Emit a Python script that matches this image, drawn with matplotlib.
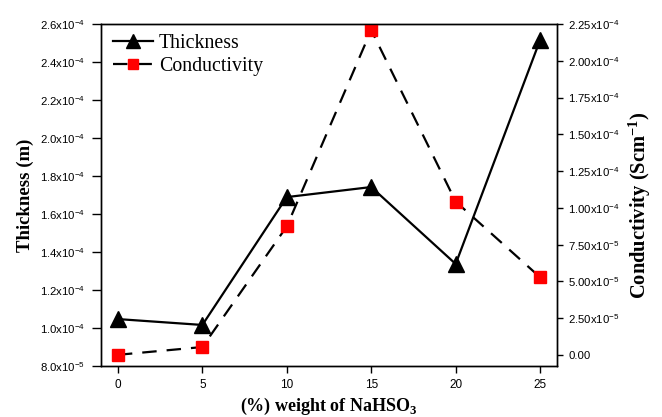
import matplotlib
matplotlib.use("Agg")
import matplotlib.pyplot as plt

plt.rcParams['mathtext.fontset'] = 'custom'
plt.rcParams['mathtext.rm'] = 'Liberation Sans'
plt.rcParams['mathtext.it'] = 'Liberation Sans'
plt.rcParams['mathtext.bf'] = 'Liberation Sans:bold'
plt.rcParams['font.family'] = 'Liberation Sans'

weight = [0, 5, 10, 15, 20, 25]
thickness = [1.047e-4, 1.016e-4, 1.689e-4, 1.742e-4, 1.337e-4, 2.516e-4]
conductivity = [1e-7, 5.4e-6, 8.74e-5, 2.209e-4, 1.043e-4, 5.28e-5]

left_ticks = [8.0e-5, 1.0e-4, 1.2e-4, 1.4e-4, 1.6e-4, 1.8e-4, 2.0e-4, 2.2e-4, 2.4e-4, 2.6e-4]
left_labels = ['8.0x10$^{-5}$', '1.0x10$^{-4}$', '1.2x10$^{-4}$', '1.4x10$^{-4}$', '1.6x10$^{-4}$',
               '1.8x10$^{-4}$', '2.0x10$^{-4}$', '2.2x10$^{-4}$', '2.4x10$^{-4}$', '2.6x10$^{-4}$']
right_ticks = [0.0, 2.5e-5, 5.0e-5, 7.5e-5, 1.0e-4, 1.25e-4, 1.5e-4, 1.75e-4, 2.0e-4, 2.25e-4]
right_labels = ['0.00', '2.50x10$^{-5}$', '5.00x10$^{-5}$', '7.50x10$^{-5}$', '1.00x10$^{-4}$',
                '1.25x10$^{-4}$', '1.50x10$^{-4}$', '1.75x10$^{-4}$', '2.00x10$^{-4}$', '2.25x10$^{-4}$']
x_ticks = [0, 5, 10, 15, 20, 25]

fig = plt.figure(figsize=(6.62, 4.17), dpi=100)
ax = fig.add_axes([0.1526, 0.1223, 0.8414 - 0.1526, 0.9424 - 0.1223])
ax2 = ax.twinx()

l1, = ax.plot(weight, thickness, color='black', lw=1.6, marker='^', markersize=12,
              markerfacecolor='black', markeredgecolor='black', label='Thickness')
l2, = ax2.plot(weight, conductivity, color='black', lw=1.6, ls=(0, (6.5, 4.5)), marker='s', markersize=9,
               markerfacecolor='#ff0000', markeredgecolor='#ff0000', label='Conductivity')

ax.set_xlim(-1, 26)
ax.set_ylim(8.0e-5, 2.6e-4)
ax2.set_ylim(-7.5e-6, 2.25e-4)

ax.set_xticks(x_ticks)
ax.set_xticklabels([str(v) for v in x_ticks], fontsize=8.5)
ax.set_yticks(left_ticks)
ax.set_yticklabels(left_labels, fontsize=8.2)
ax2.set_yticks(right_ticks)
ax2.set_yticklabels(right_labels, fontsize=8.2)

ax.tick_params(axis='y', direction='out', length=6.5, width=1, pad=5)
ax.tick_params(axis='x', direction='out', length=5, width=1, pad=4)
ax2.tick_params(axis='y', direction='out', length=4.5, width=1, pad=3.5)
for a in (ax, ax2):
    for s in a.spines.values():
        s.set_linewidth(1)

ax.set_xlabel('(%) weight of NaHSO$_\\mathregular{3}$', family='Liberation Serif', fontweight='bold',
              fontsize=13, labelpad=4)
ax.set_ylabel('Thickness (m)', family='Liberation Serif', fontweight='bold', fontsize=13.5, labelpad=4)
ax2.set_ylabel('Conductivity (Scm$^{\\mathregular{-1}}$)', family='Liberation Serif', fontweight='bold',
               fontsize=14.8, labelpad=5)
ax2.yaxis.label.set_y(0.47)

leg = ax.legend(handles=[l1, l2], loc='upper left', frameon=False, handlelength=2.0, markerscale=0.85,
                prop={'family': 'Liberation Serif', 'size': 14.3}, borderaxespad=0.2,
                handletextpad=0.3, labelspacing=0.22, borderpad=0.3, bbox_to_anchor=(0.005, 1.0))

fig.savefig('out.png', dpi=100)
